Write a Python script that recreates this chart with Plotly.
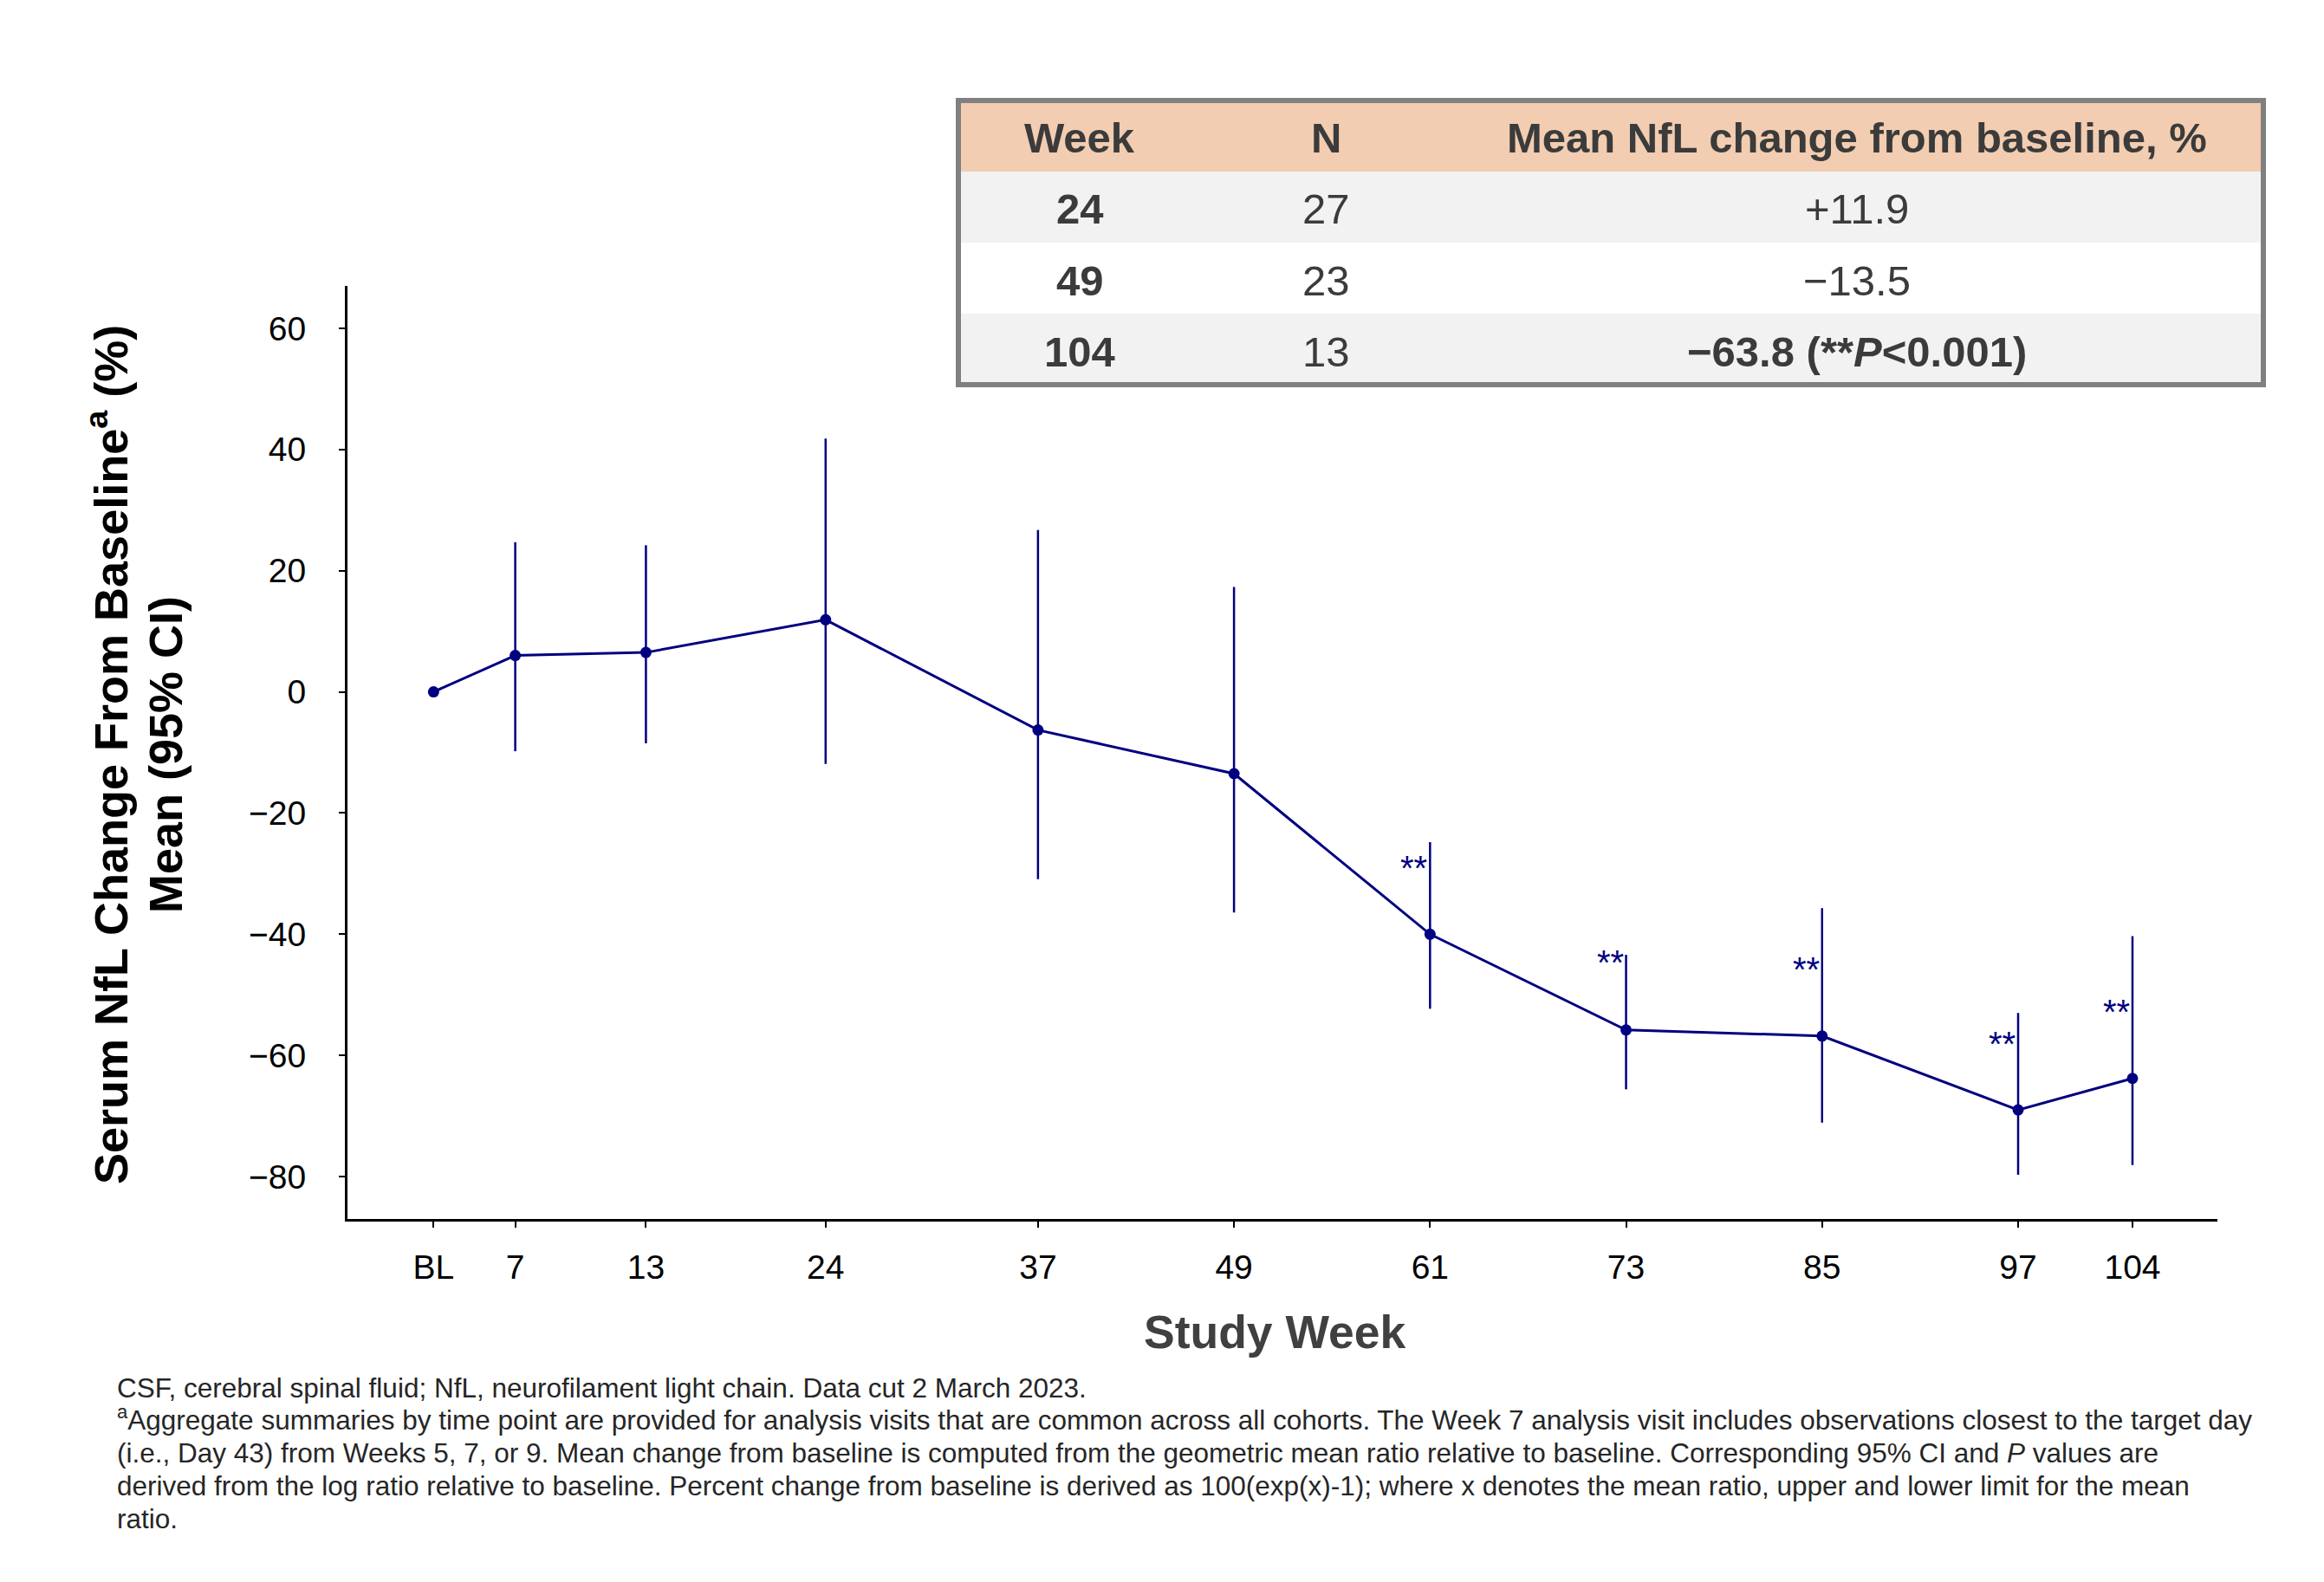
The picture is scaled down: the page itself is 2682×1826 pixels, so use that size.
import plotly.graph_objects as go

# ---------------- data ----------------
week_labels = ["BL", "7", "13", "24", "37", "49", "61", "73", "85", "97", "104"]
week_pos = [0, 5, 13, 24, 37, 49, 61, 73, 85, 97, 104]
mean_change = [0.0, 6.0, 6.5, 11.9, -6.3, -13.5, -40.0, -55.8, -56.8, -69.0, -63.8]
ci_upper = [0.0, 24.7, 24.2, 41.8, 26.7, 17.3, -24.8, -43.4, -35.7, -53.0, -40.3]
ci_lower = [0.0, -9.8, -8.5, -11.9, -30.9, -36.4, -52.3, -65.6, -71.1, -79.7, -78.1]
significant = [False, False, False, False, False, False, True, True, True, True, True]
y_ticks = [60, 40, 20, 0, -20, -40, -60, -80]

table_header = ["Week", "N", "Mean NfL change from baseline, %"]
table_week = ["24", "49", "104"]
table_n = ["27", "23", "13"]
table_change = ["+11.9", "\u221213.5", "\u221263.8 (**<i>P</i>&lt;0.001)"]
table_change_bold = [False, False, True]

footnotes = [
    "CSF, cerebral spinal fluid; NfL, neurofilament light chain. Data cut 2 March 2023.",
    "<sup>a</sup>Aggregate summaries by time point are provided for analysis visits that are common across all cohorts. The Week 7 analysis visit includes observations closest to the target day",
    "(i.e., Day 43) from Weeks 5, 7, or 9. Mean change from baseline is computed from the geometric mean ratio relative to baseline. Corresponding 95% CI and <i>P</i> values are",
    "derived from the log ratio relative to baseline. Percent change from baseline is derived as 100(exp(x)-1); where x denotes the mean ratio, upper and lower limit for the mean",
    "ratio.",
]

# ---------------- layout geometry (pixels) ----------------
W, H = 2682, 1826
L, R, T, B = 401, 2559, 330, 1407
FONT = "Liberation Sans, Arial, Helvetica, sans-serif"
NAVY = "#000080"
TXT = "#3b3b3b"

def px(x):
    return (x - L) / (R - L)

def py(y):
    return (B - y) / (B - T)

# positions of the significance labels (layout, in axis units)
sig_label_y = [None, None, None, None, None, None, -27.8, -43.4, -44.5, -56.8, -51.5]

err_plus = [u - m for u, m in zip(ci_upper, mean_change)]
err_minus = [m - l for m, l in zip(mean_change, ci_lower)]

fig = go.Figure()
fig.add_trace(go.Scatter(
    x=week_pos, y=mean_change, mode="lines+markers",
    line=dict(color=NAVY, width=3),
    marker=dict(color=NAVY, size=13),
    error_y=dict(type="data", symmetric=False, array=err_plus, arrayminus=err_minus,
                 color=NAVY, thickness=2.5, width=0),
    showlegend=False, hoverinfo="skip",
))

annotations = []
shapes = []

# significance asterisks
for xp, sig, ly in zip(week_pos, significant, sig_label_y):
    if sig:
        annotations.append(dict(x=xp, y=ly, xref="x", yref="y", text="**", showarrow=False,
                                xanchor="right", yanchor="middle", xshift=-1, yshift=-9,
                                font=dict(family=FONT, size=40, color=NAVY)))

# axis titles
annotations.append(dict(x=px(1471), y=py(1537), xref="paper", yref="paper", text="<b>Study Week</b>",
                        showarrow=False, xanchor="center", yanchor="middle",
                        font=dict(family=FONT, size=53.5, color="#404040")))
annotations.append(dict(x=px(124), y=py(871), xref="paper", yref="paper",
                        text="<b>Serum NfL Change From Baseline<sup>a</sup> (%)</b>", textangle=-90,
                        showarrow=False, xanchor="center", yanchor="middle",
                        font=dict(family=FONT, size=54, color="#000000")))
annotations.append(dict(x=px(191), y=py(871), xref="paper", yref="paper",
                        text="<b>Mean (95% CI)</b>", textangle=-90,
                        showarrow=False, xanchor="center", yanchor="middle",
                        font=dict(family=FONT, size=54, color="#000000")))

# footnotes
fn_size = 31.5
fn_baselines = [1614.5, 1651.5, 1689.5, 1727.5, 1765.5]
for txt, bl in zip(footnotes, fn_baselines):
    annotations.append(dict(x=px(134), y=py(bl + 0.212 * fn_size), xref="paper", yref="paper",
                            text=txt, showarrow=False, xanchor="left", yanchor="bottom",
                            borderpad=0, font=dict(family=FONT, size=fn_size, color="#262626")))

# ---------------- table ----------------
tab_left, tab_right = 1106, 2612
row_edges = [116, 198.3, 280, 362, 444]
row_fills = ["#F2CDB1", "#F2F2F2", "#FFFFFF", "#F2F2F2"]
col_centers = [1246, 1530, 2143]
text_centers = [159, 240.8, 324, 405.8]

for i, fill in enumerate(row_fills):
    shapes.append(dict(type="rect", xref="paper", yref="paper",
                       x0=px(tab_left), x1=px(tab_right), y0=py(row_edges[i + 1]), y1=py(row_edges[i]),
                       fillcolor=fill, line=dict(width=0), layer="above"))
shapes.append(dict(type="rect", xref="paper", yref="paper",
                   x0=px(tab_left), x1=px(tab_right), y0=py(row_edges[-1]), y1=py(row_edges[0]),
                   fillcolor="rgba(0,0,0,0)", line=dict(color="#808080", width=6), layer="above"))

def cell(text, cx, cy, bold):
    t = f"<b>{text}</b>" if bold else text
    annotations.append(dict(x=px(cx), y=py(cy), xref="paper", yref="paper", text=t,
                            showarrow=False, xanchor="center", yanchor="middle", borderpad=0,
                            font=dict(family=FONT, size=49, color=TXT)))

for h, cx in zip(table_header, col_centers):
    cell(h, cx, text_centers[0], True)
for r in range(len(table_week)):
    cy = text_centers[r + 1]
    cell(table_week[r], col_centers[0], cy, True)
    cell(table_n[r], col_centers[1], cy, False)
    cell(table_change[r], col_centers[2], cy, table_change_bold[r])

fig.update_layout(
    width=W, height=H, autosize=False,
    margin=dict(l=L, r=W - R, t=T, b=H - B, pad=0),
    paper_bgcolor="white", plot_bgcolor="white",
    font=dict(family=FONT, color="#000000"),
    annotations=annotations, shapes=shapes,
    xaxis=dict(range=[-5.27, 109.2], tickmode="array", tickvals=week_pos, ticktext=week_labels,
               showgrid=False, zeroline=False, showline=True, linecolor="#000000", linewidth=3,
               ticks="outside", ticklen=7, tickwidth=2, tickcolor="#000000",
               tickfont=dict(family=FONT, size=39, color="#000000"), ticklabelstandoff=12),
    yaxis=dict(range=[-87.0, 67.0], tickmode="array", tickvals=y_ticks,
               showgrid=False, zeroline=False, showline=True, linecolor="#000000", linewidth=3,
               ticks="outside", ticklen=7, tickwidth=2, tickcolor="#000000",
               tickfont=dict(family=FONT, size=39, color="#000000"), ticklabelstandoff=30),
)

fig.write_html("out.html", config={"displayModeBar": False},
               post_script="document.body.style.margin='0';document.body.style.overflow='hidden';")
